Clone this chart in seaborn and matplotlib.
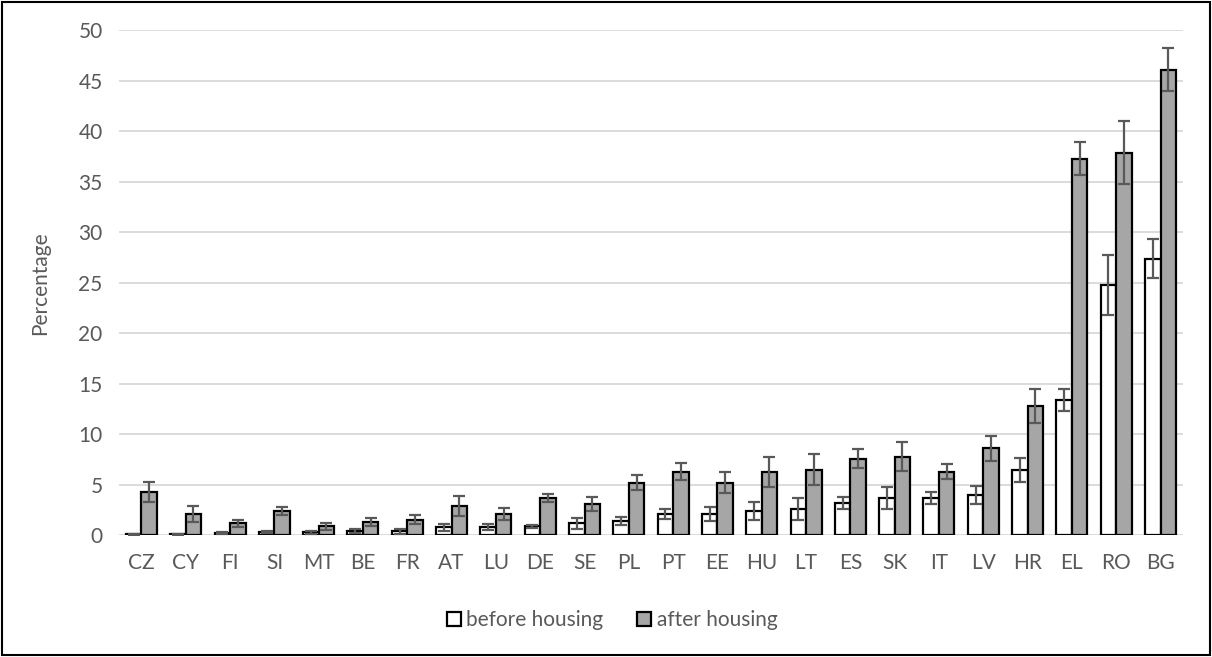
import matplotlib
matplotlib.use("Agg")
import matplotlib.pyplot as plt
from matplotlib.patches import Rectangle
import numpy as np
import pandas as pd
import seaborn as sns

# Countries ordered by after-housing rate
countries = ["CZ", "CY", "FI", "SI", "MT", "BE", "FR", "AT", "LU", "DE", "SE", "PL",
             "PT", "EE", "HU", "LT", "ES", "SK", "IT", "LV", "HR", "EL", "RO", "BG"]
before_housing = [0.1, 0.1, 0.2, 0.3, 0.3, 0.4, 0.4, 0.8, 0.8, 0.9, 1.2, 1.4,
                  2.1, 2.1, 2.4, 2.6, 3.2, 3.7, 3.7, 4.0, 6.5, 13.4, 24.8, 27.4]
before_err = [0.05, 0.05, 0.1, 0.1, 0.15, 0.2, 0.23, 0.33, 0.3, 0.13, 0.53, 0.38,
              0.48, 0.66, 0.91, 1.09, 0.58, 1.1, 0.6, 0.9, 1.2, 1.1, 3.0, 1.9]
after_housing = [4.3, 2.1, 1.2, 2.4, 0.9, 1.3, 1.55, 2.9, 2.1, 3.7, 3.1, 5.2,
                 6.3, 5.2, 6.3, 6.5, 7.6, 7.8, 6.3, 8.6, 12.8, 37.3, 37.9, 46.1]
after_err = [0.97, 0.83, 0.33, 0.43, 0.33, 0.4, 0.45, 0.97, 0.58, 0.36, 0.69, 0.73,
             0.83, 1.02, 1.49, 1.52, 0.92, 1.4, 0.75, 1.2, 1.7, 1.6, 3.1, 2.1]
series_names = ["before housing", "after housing"]
y_ticks = list(range(0, 51, 5))

df = pd.DataFrame({
    "country": countries * 2,
    "value": before_housing + after_housing,
    "series": [series_names[0]] * len(countries) + [series_names[1]] * len(countries),
})
errors = [before_err, after_err]

sns.set_theme(style="white")
plt.rcParams["font.family"] = ["Lato", "DejaVu Sans"]

text_color = "#595959"
font_size = 15
fig = plt.figure(figsize=(12.12, 6.57), dpi=100)
ax = fig.add_axes([0.0984, 0.1852, 0.8774, 0.7687])

sns.barplot(data=df, x="country", y="value", hue="series", order=countries,
            hue_order=series_names, palette=["#FFFFFF", "#A6A6A6"],
            edgecolor="black", linewidth=1.6, width=0.7, errorbar=None,
            saturation=1, ax=ax, zorder=3)

# Error bars centred on each bar
for container, err in zip(ax.containers, errors):
    xs = [p.get_x() + p.get_width() / 2 for p in container.patches]
    hs = [p.get_height() for p in container.patches]
    ax.errorbar(xs, hs, yerr=err, fmt="none", ecolor="#595959",
                elinewidth=1.6, capsize=4, capthick=1.6, zorder=4)

ax.set_ylim(0, 50)
ax.set_xlim(-0.5, len(countries) - 0.5)
ax.set_yticks(y_ticks)
ax.yaxis.grid(True, color="#D9D9D9", linewidth=1.3, zorder=0)
ax.set_axisbelow(True)
for s in ax.spines.values():
    s.set_visible(False)
ax.tick_params(axis="both", length=0, labelsize=font_size, colors=text_color, pad=12)
ax.tick_params(axis="x", pad=13)
ax.set_xlabel("")
ax.set_ylabel("Percentage", fontsize=font_size, color=text_color, labelpad=20)

handles, labels = ax.get_legend_handles_labels()
ax.legend_.remove()
fig.legend(handles, labels, loc="center", bbox_to_anchor=(0.505, 0.056), ncol=2,
           frameon=False, fontsize=font_size, handlelength=0.7, handleheight=0.7,
           handletextpad=0.25, columnspacing=1.6, labelcolor=text_color)

# Chart frame
fig.patches.append(Rectangle((0.002, 0.003), 0.996, 0.994, transform=fig.transFigure,
                             fill=False, edgecolor="black", linewidth=1.5))

fig.savefig("out.png", dpi=100)
